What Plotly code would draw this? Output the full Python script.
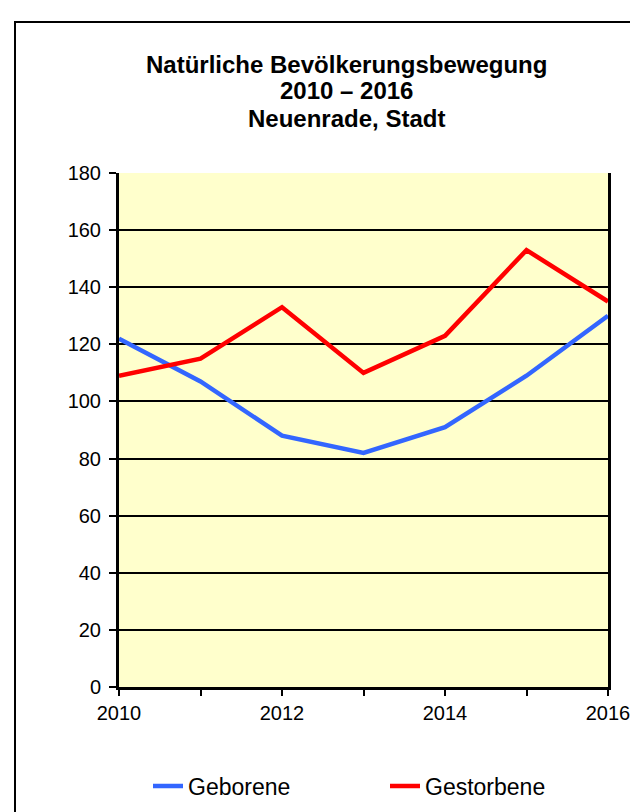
import plotly.graph_objects as go

years = [2010, 2011, 2012, 2013, 2014, 2015, 2016]
geborene = [122, 107, 88, 82, 91, 109, 130]
gestorbene = [109, 115, 133, 110, 123, 153, 135]
x_tick_labels = ["2010", "", "2012", "", "2014", "", "2016"]
title_lines = ["Natürliche Bevölkerungsbewegung", "2010 – 2016", "Neuenrade, Stadt"]

FONT = "Liberation Sans, Arial, sans-serif"

fig = go.Figure()
fig.add_trace(go.Scatter(x=years, y=geborene, mode="lines", name="Geborene",
                         line=dict(color="#3366FF", width=4.5)))
fig.add_trace(go.Scatter(x=years, y=gestorbene, mode="lines", name="Gestorbene",
                         line=dict(color="#FF0000", width=4.5)))

L, R, T, B = 111, 38, 165, 123
W, H = 638, 812
pw, ph = W - L - R, H - T - B

def px_x(x):
    return (x - L) / pw

def px_y(y):
    return (H - B - y) / ph

title_y = [54, 81, 109]
for txt, yy in zip(title_lines, title_y):
    fig.add_annotation(text="<b>%s</b>" % txt, x=px_x(338), y=px_y(yy), xref="paper", yref="paper",
                       showarrow=False, xanchor="center", yanchor="middle",
                       font=dict(family=FONT, size=24, color="black"))

fig.add_shape(type="rect", xref="paper", yref="paper",
              x0=px_x(7), x1=px_x(700), y0=px_y(900), y1=px_y(11),
              line=dict(color="black", width=2), fillcolor="rgba(0,0,0,0)", layer="below")

fig.update_layout(
    width=W, height=H,
    margin=dict(l=L, r=R, t=T, b=B),
    paper_bgcolor="white",
    plot_bgcolor="#FFFFCC",
    font=dict(family=FONT, size=20, color="black"),
    showlegend=True,
    legend=dict(orientation="h", x=px_x(140), y=px_y(790), xanchor="left", yanchor="middle",
                font=dict(family=FONT, size=23, color="black"),
                entrywidth=192, entrywidthmode="pixels", bgcolor="rgba(0,0,0,0)"),
)
fig.update_xaxes(range=[2010, 2016], tickmode="array", tickvals=years, ticktext=x_tick_labels,
                 showgrid=False, zeroline=False, showline=True, linecolor="black", linewidth=3,
                 ticks="outside", ticklen=6, tickwidth=2, tickcolor="black",
                 tickfont=dict(family=FONT, size=20, color="black"))
fig.update_yaxes(range=[0, 180], dtick=20, tick0=0, showgrid=True, gridcolor="black", gridwidth=2,
                 zeroline=False, showline=True, linecolor="black", linewidth=3, mirror=True,
                 ticks="outside", ticklen=7, tickwidth=2, tickcolor="black", ticklabelstandoff=4,
                 tickfont=dict(family=FONT, size=20, color="black"))

fig.write_html("out.html")
